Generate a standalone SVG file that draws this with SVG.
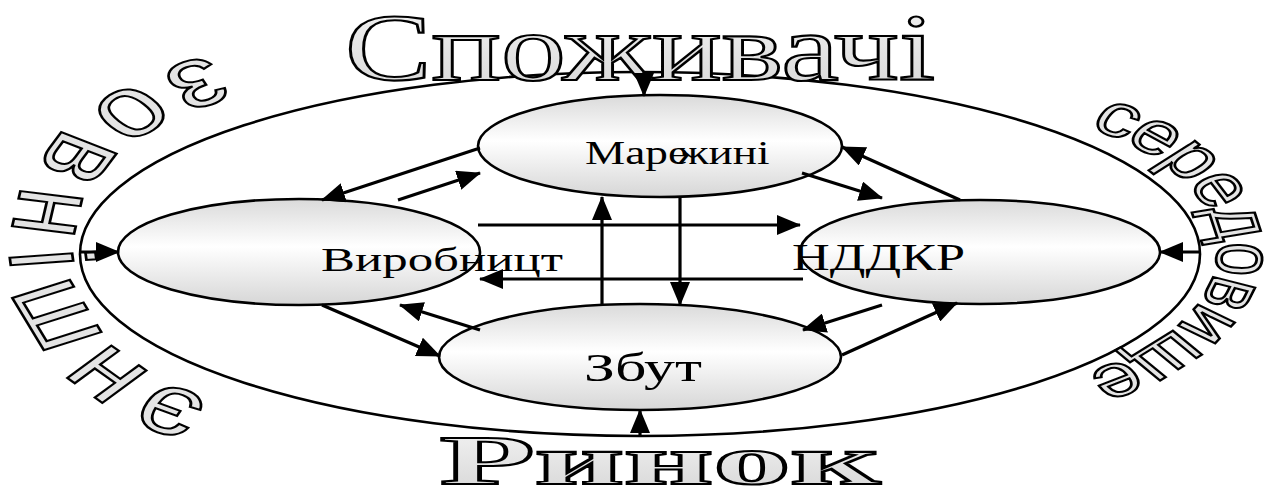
<svg xmlns="http://www.w3.org/2000/svg" width="1275" height="492" viewBox="0 0 1275 492">
<style>
.ell{stroke:#000;stroke-width:2.6;fill:url(#g)}
.outer{fill:#fff;stroke:#000;stroke-width:2.6}
.lbl{font-family:"Liberation Serif","Times New Roman",serif;fill:#000}
.wa{fill:#e4e4e4;stroke:#000;stroke-width:2}
.wsans{font-family:"Liberation Sans",Arial,sans-serif}
.wserif{font-family:"Liberation Serif","Times New Roman",serif}
.cn line{stroke:#000;stroke-width:3.2;marker-end:url(#ah)}
</style>
<defs>
<linearGradient id="g" x1="0" y1="0" x2="0" y2="1">
<stop offset="0" stop-color="#dadada"/>
<stop offset="0.45" stop-color="#ffffff"/>
<stop offset="1" stop-color="#d6d6d6"/>
</linearGradient>
<linearGradient id="wg" x1="0" y1="0" x2="0" y2="1">
<stop offset="0" stop-color="#f4f4f4"/>
<stop offset="1" stop-color="#d6d6d6"/>
</linearGradient>
<marker id="ah" viewBox="0 0 24 20" refX="23" refY="10" markerWidth="24" markerHeight="20" orient="auto" markerUnits="userSpaceOnUse">
<path d="M0,0 L24,10 L0,20 z" fill="#000"/>
</marker>
<path id="leftArc" d="M0,-206 A210 206 0 0 0 0,206"/>
<path id="rightArc" d="M0,-143 A191 143 0 0 1 0,143"/>
</defs>
<rect width="1275" height="492" fill="#fff"/>

<g id="outer">
<ellipse class="outer" cx="640" cy="254" rx="560" ry="182"/>
</g>

<g id="spozhyvachi">
<text class="wserif" x="345" y="80" font-size="96" textLength="590" lengthAdjust="spacingAndGlyphs" fill="url(#wg)" stroke="#000" stroke-width="2.2">Споживачі</text>
</g>
<g id="rynok">
<text class="wserif" x="440" y="484" font-size="70" font-weight="bold" textLength="440" lengthAdjust="spacingAndGlyphs" fill="url(#wg)" stroke="#000" stroke-width="2.2">Ринок</text>
</g>
<g id="zovnishnie" transform="translate(300,252) scale(1.38,1)">
<text class="wsans wa" font-size="86" letter-spacing="20" stroke-width="1.6"><textPath href="#leftArc" startOffset="50%" text-anchor="middle">зовнішнє</textPath></text>
</g>
<g id="seredovyshche" transform="translate(950,250) scale(1.4,1)">
<text class="wsans wa" font-size="60" letter-spacing="-2" stroke-width="1.6"><textPath href="#rightArc" startOffset="50%" text-anchor="middle">середовище</textPath></text>
</g>

<g id="marketing">
<ellipse class="ell" cx="660" cy="146" rx="182" ry="51"/>
<text class="lbl" font-size="34" transform="translate(585,164) scale(1.33,1)">Мар<tspan>е</tspan><tspan dx="-8">ж</tspan>ині</text>
</g>
<g id="vyrobnytstvo">
<ellipse class="ell" cx="299" cy="252" rx="181" ry="53"/>
<text class="lbl" x="321" y="271" font-size="34" textLength="242" lengthAdjust="spacingAndGlyphs">Виробницт</text>
</g>
<g id="nddkr">
<ellipse class="ell" cx="980" cy="252" rx="180" ry="52"/>
<text class="lbl" x="792" y="270" font-size="37" textLength="173" lengthAdjust="spacingAndGlyphs">НДДКР</text>
</g>
<g id="zbut">
<ellipse class="ell" cx="640" cy="357" rx="201" ry="53"/>
<text class="lbl" x="584" y="381" font-size="40" textLength="118" lengthAdjust="spacingAndGlyphs">Збут</text>
</g>

<g id="connectors" class="cn">
<line x1="644" y1="72" x2="644" y2="96"/>
<line x1="640" y1="436" x2="640" y2="410"/>
<line x1="80" y1="252" x2="119" y2="252"/>
<line x1="1200" y1="252" x2="1160" y2="252"/>
<line x1="480" y1="148" x2="322" y2="200"/>
<line x1="398" y1="200" x2="480" y2="173"/>
<line x1="802" y1="173" x2="882" y2="198"/>
<line x1="960" y1="200" x2="842" y2="147"/>
<line x1="602" y1="305" x2="602" y2="197"/>
<line x1="680" y1="197" x2="680" y2="305"/>
<line x1="478" y1="225" x2="800" y2="225"/>
<line x1="803" y1="279" x2="480" y2="279"/>
<line x1="322" y1="305" x2="440" y2="356"/>
<line x1="480" y1="330" x2="400" y2="305"/>
<line x1="882" y1="305" x2="803" y2="330"/>
<line x1="842" y1="355" x2="957" y2="303"/>
</g>
</svg>
